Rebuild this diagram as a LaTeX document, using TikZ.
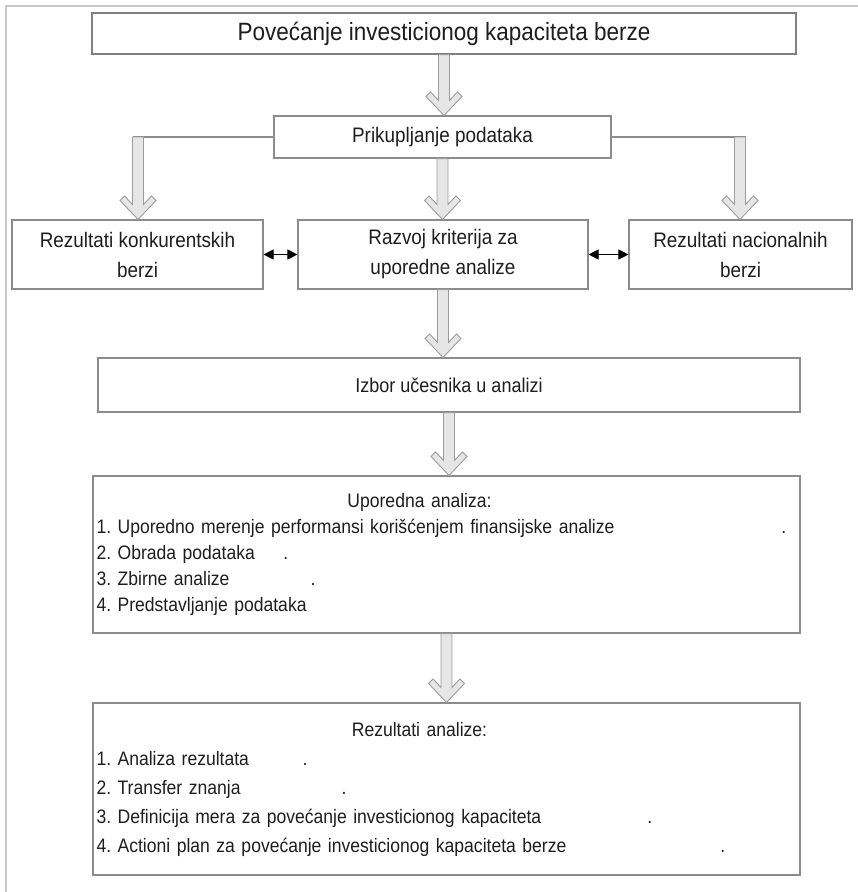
\documentclass[tikz,border=0pt]{standalone}
\usepackage{fontspec}
\setmainfont[FakeStretch=0.9]{Liberation Sans}
\usetikzlibrary{calc}
\usetikzlibrary{arrows.meta}
\definecolor{framegray}{HTML}{C8C8C8}
\definecolor{boxgray}{HTML}{8C8C8C}
\definecolor{arrowgray}{HTML}{9C9C9C}
\definecolor{arrowfill}{HTML}{E6E6E6}
\definecolor{txt}{HTML}{1E1E1E}
\frenchspacing

\tikzset{
  box/.style={draw=boxgray, line width=1.1pt, fill=white, inner sep=0pt, text=txt, align=center},
  hollow/.style={draw=arrowgray, fill=arrowfill, line width=0.9pt, line join=miter},
  link/.style={draw=boxgray, line width=1.1pt},
  twoway/.style={{Triangle[length=10pt,width=10pt]}-{Triangle[length=10pt,width=10pt]}, line width=0.9pt}
}

\newcommand{\hollowarrow}[2]{%
  \draw[hollow] let \p1=#1, \p2=#2 in
    (\x1-5.5pt,\y1) -- (\x1-5.5pt,\y2+15pt) -- (\x1-13.5pt,\y2+23.5pt)
    -- (\x1-18pt,\y2+19pt) -- (\x1,\y2) -- (\x1+18pt,\y2+19pt)
    -- (\x1+13.5pt,\y2+23.5pt) -- (\x1+5.5pt,\y2+15pt) -- (\x1+5.5pt,\y1) -- cycle;}

\begin{document}
\begin{tikzpicture}[x=1pt,y=-1pt]
\useasboundingbox (0,0) rectangle (858,892);
\draw[framegray, line width=2pt] (6,892) -- (6,6) -- (858,6);

\node[box, draw=gray, line width=1.5pt, minimum width=704pt, minimum height=41pt, font=\fontsize{25}{28}\selectfont] (goal) at (444,33.5) {Povećanje investicionog kapaciteta berze};
\node[box, minimum width=337pt, minimum height=42pt, font=\fontsize{21}{24}\selectfont] (collect) at (442.5,137) {Prikupljanje podataka};

\node[box, minimum width=251pt, minimum height=69pt, font=\fontsize{21}{30}\selectfont] (rivals) at (137.5,254.5) {Rezultati konkurentskih\\berzi};
\node[box, minimum width=290pt, minimum height=69pt, font=\fontsize{21}{30}\selectfont] (criteria) at (443,254.5) {Razvoj kriterija za\\uporedne analize};
\node[box, minimum width=223pt, minimum height=69pt, font=\fontsize{21}{30}\selectfont] (national) at (740.5,254.5) {Rezultati nacionalnih\\berzi};

\node[box, minimum width=702pt, minimum height=54pt, font=\fontsize{20}{24}\selectfont] (select) at (449,385) {Izbor učesnika u analizi};

\node[box, minimum width=707pt, minimum height=157pt, text width=700pt, align=left, font=\fontsize{19.5}{26}\selectfont] (compare) at (446.5,554.5) {%
\makebox[646pt][c]{Uporedna analiza:}\\
\makebox[685pt][l]{1. Uporedno merenje performansi korišćenjem finansijske analize}.\\
\makebox[187pt][l]{2. Obrada podataka}.\\
\makebox[214pt][l]{3. Zbirne analize}.\\
4. Predstavljanje podataka};

\node[box, minimum width=707pt, minimum height=172pt, text width=700pt, align=left, font=\fontsize{19.5}{29}\selectfont] (results) at (446.5,789) {%
\makebox[646pt][c]{Rezultati analize:}\\
\makebox[206pt][l]{1. Analiza rezultata}.\\
\makebox[245pt][l]{2. Transfer znanja}.\\
\makebox[551pt][l]{3. Definicija mera za povećanje investicionog kapaciteta}.\\
\makebox[624pt][l]{4. Actioni plan za povećanje investicionog kapaciteta berze}.};

\coordinate (lfork) at (138,137);
\coordinate (rfork) at (740,137);
\draw[link] (collect.west) -- ([xshift=-5.5pt]lfork);
\draw[link] (collect.east) -- ([xshift=5.5pt]rfork);

\hollowarrow{(goal.south)}{(collect.north)}
\hollowarrow{(lfork)}{(rivals.north)}
\hollowarrow{(collect.south)}{(criteria.north)}
\hollowarrow{(rfork)}{(national.north)}
\hollowarrow{(criteria.south)}{(select.north)}
\hollowarrow{(select.south)}{(compare.north)}
\hollowarrow{(compare.south)}{(results.north)}

\draw[twoway] (rivals.east) -- (criteria.west);
\draw[twoway] (criteria.east) -- (national.west);
\end{tikzpicture}
\end{document}
